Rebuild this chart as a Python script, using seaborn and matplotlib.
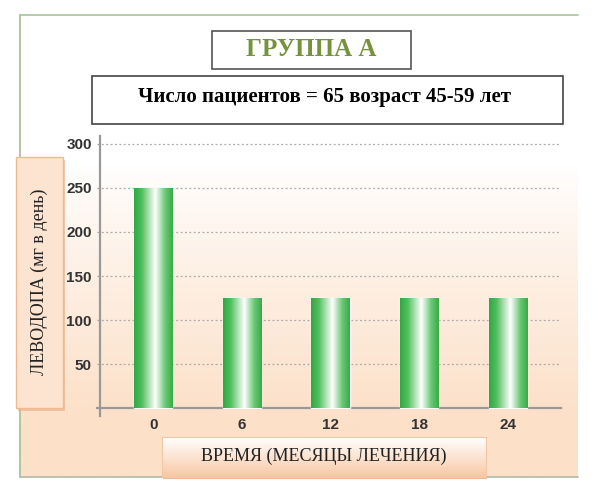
import numpy as np
import pandas as pd
import matplotlib
matplotlib.use("Agg")
import matplotlib.pyplot as plt
import seaborn as sns
from matplotlib.colors import LinearSegmentedColormap
from matplotlib.patches import Rectangle

# ---- data ----
months = ["0", "6", "12", "18", "24"]
dose = [250, 125, 125, 125, 125]
yticks = [50, 100, 150, 200, 250, 300]
title = "ГРУППА А"
subtitle = "Число пациентов = 65 возраст 45-59 лет"
ylabel = "ЛЕВОДОПА (мг в день)"
xlabel = "ВРЕМЯ (МЕСЯЦЫ ЛЕЧЕНИЯ)"

sns.set_theme(style="white")
plt.rcParams['font.family'] = ['Liberation Sans', 'DejaVu Sans']
SERIF = ['Liberation Serif', 'DejaVu Serif']

fig = plt.figure(figsize=(6, 4.95), dpi=100)

# ---- background / decorations (pixel coords) ----
bg = fig.add_axes([0, 0, 1, 1], zorder=0)
H = 400
yy = np.linspace(15, 477, H)
a = np.clip((yy - 165) / (420 - 165), 0, 1) ** 0.85
top_c = np.array([1.0, 1.0, 1.0])
bot_c = np.array([252, 224, 200]) / 255
img = top_c[None, :] * (1 - a[:, None]) + bot_c[None, :] * a[:, None]
bg.imshow(img[:, None, :], extent=(20, 578, 477, 15), aspect='auto', zorder=0)
bg.plot([20, 578], [15, 15], color='#a9c9a0', lw=1.3, zorder=1)
bg.plot([20, 20], [15, 477], color='#a9c2a0', lw=1.3, zorder=1)
bg.plot([20, 578], [477, 477], color='#b4bea8', lw=1.3, zorder=1)

# title box
bg.add_patch(Rectangle((212, 31), 199, 38, fc='white', ec='#555555', lw=1.2, zorder=2))
bg.text(311, 50, title, family=SERIF, weight='bold', color='#76923c', fontsize=18,
        ha='center', va='center', zorder=3)
# subtitle box
bg.add_patch(Rectangle((92, 76), 471, 48, fc='white', ec='#444444', lw=1.2, zorder=2))
bg.text(325, 97, subtitle, family=SERIF, weight='bold', color='black', fontsize=15,
        ha='center', va='center', zorder=3)

# y label box
bg.add_patch(Rectangle((18, 160), 47, 251, fc='#eab48c', ec='none', alpha=0.7, zorder=2))
bg.add_patch(Rectangle((16, 157), 47, 251, fc='#fde4d0', ec='#efb991', lw=1, zorder=2))
bg.text(39, 282, ylabel, family=SERIF, color='#222222', fontsize=13, rotation=90,
        ha='center', va='center', zorder=3)

# x label box
bg.add_patch(Rectangle((163, 439), 324, 40, fc='#e9a97c', ec='none', alpha=0.8, zorder=2))
xb = Rectangle((162, 437), 324, 40, fc='none', ec='#f2c7a8', lw=0.8, zorder=3)
bg.add_patch(xb)
gy = np.linspace(0, 1, 100)
top2 = np.array([1.0, 1.0, 1.0]); bot2 = np.array([248, 200, 164]) / 255
img2 = top2[None, :] * (1 - gy[:, None]) + bot2[None, :] * gy[:, None]
im2 = bg.imshow(img2[:, None, :], extent=(162, 486, 477, 437), aspect='auto', zorder=2.5)
im2.set_clip_path(xb)
bg.text(324, 456, xlabel, family=SERIF, color='#222222', fontsize=13,
        ha='center', va='center', zorder=4)

bg.set_xlim(0, 600)
bg.set_ylim(495, 0)
bg.axis('off')

# ---- main chart ----
ax = fig.add_axes([96.5 / 600, 79 / 495, (561 - 96.5) / 600, 280 / 495], zorder=1)
ax.set_facecolor('none')
df = pd.DataFrame({'month': months, 'dose': dose})
sns.barplot(data=df, x='month', y='dose', order=months, color='#3cb44b',
            width=0.43, saturation=1, ax=ax, zorder=3)

cmap = LinearSegmentedColormap.from_list(
    'g', [(0, '#2fa843'), (0.2, '#52bf5f'), (0.55, '#ffffff'), (0.8, '#6cc877'), (1, '#35ab45')])
grad = np.linspace(0, 1, 256)[None, :]
for p in ax.patches:
    x0 = p.get_x(); w = p.get_width(); h = p.get_height()
    im = ax.imshow(grad, cmap=cmap, extent=(x0, x0 + w, 0, h), aspect='auto',
                   zorder=4)
    im.set_clip_path(p)

ax.set_xlim(-0.64, 4.6)
ax.set_ylim(-9, 309)
ax.set_yticks(yticks)
ax.set_xlabel('')
ax.set_ylabel('')
for s in ['top', 'right']:
    ax.spines[s].set_visible(False)
ax.spines['bottom'].set_position(('data', 0))
ax.spines['left'].set_position(('data', -0.6))
for s in ['bottom', 'left']:
    ax.spines[s].set_color('#999999')
    ax.spines[s].set_linewidth(1.6)
ax.grid(axis='y', color='#aaaaaa', linestyle=(0, (1.5, 2)), lw=0.9)
ax.set_axisbelow(True)
ax.tick_params(axis='both', length=0, labelsize=11, colors='#333333')
ax.tick_params(axis='y', pad=6)
ax.tick_params(axis='x', pad=7)
for lbl in ax.get_xticklabels() + ax.get_yticklabels():
    lbl.set_fontweight('bold')

fig.savefig('out.png', dpi=100)
